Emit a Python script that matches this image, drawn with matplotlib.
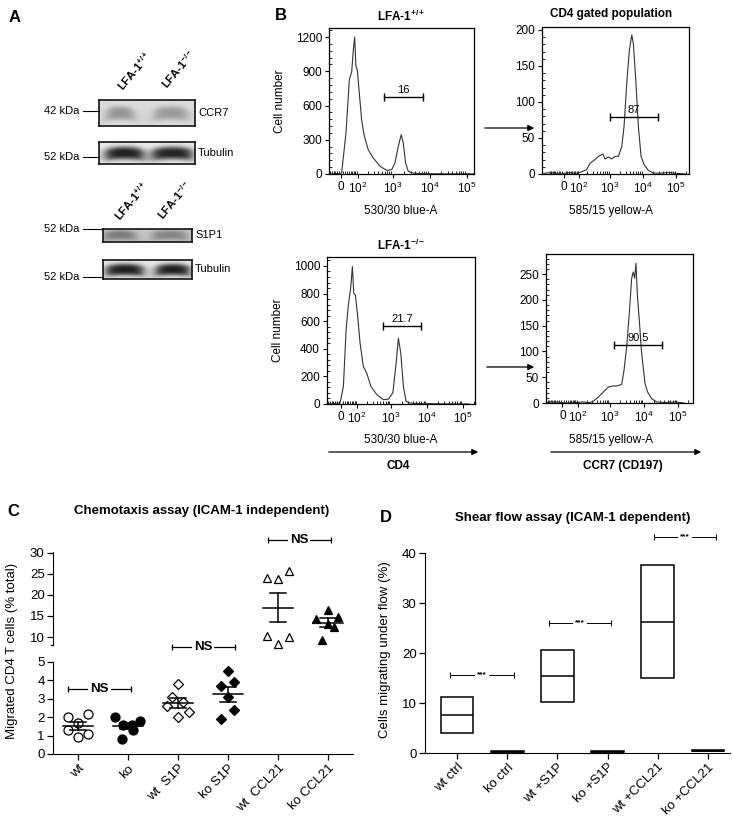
import matplotlib
matplotlib.use('Agg')
import matplotlib.pyplot as plt
import numpy as np
from matplotlib.patches import FancyArrowPatch
from matplotlib.lines import Line2D
from matplotlib.ticker import FixedLocator, AutoMinorLocator

plt.rcParams['font.family'] = ['Liberation Sans', 'DejaVu Sans']
plt.rcParams['mathtext.fontset'] = 'custom'
plt.rcParams['mathtext.rm'] = 'Liberation Sans'
plt.rcParams['mathtext.bf'] = 'Liberation Sans:bold'
plt.rcParams['mathtext.it'] = 'Liberation Sans:italic'

W, H = 734, 826

# ---------------- data ----------------
# A: western blots (band darkness 0..1)
blot_names = ['CCR7', 'Tubulin', 'S1P1', 'Tubulin']
blot_kda = ['42 kDa', '52 kDa', '52 kDa', '52 kDa']
blot_bg = [0.14, 0.09, 0.22, 0.09]
band_level = [[0.42, 0.40], [0.88, 0.86], [0.52, 0.48], [0.88, 0.88]]
lane_labels = [r'LFA-1$^{\mathbf{+/+}}$', r'LFA-1$^{\mathbf{-/-}}$']

# B: flow histograms (intensity, cell count)
cd4_wt_x = [-60, -30, -10, 2, 24, 42, 56, 66, 75, 84, 94, 110, 131, 155, 207, 289, 446, 676, 922,
            1132, 1390, 1675, 1897, 2200, 2590, 3540, 5000, 10000, 30000, 100000, 150000]
cd4_wt_y = [0, 3, 1, 9, 360, 826, 900, 1090, 1200, 943, 914, 710, 476, 345, 213, 140, 67, 32, 38,
            96, 242, 345, 272, 96, 23, 8, 3, 2, 1, 2, 0]
ccr7_wt_x = [-150, -80, -20, 30, 70, 110, 188, 242, 347, 442, 601, 705, 887, 1127, 1419, 1786, 2265,
             2655, 3206, 3846, 4550, 5080, 6010, 7210, 8690, 10720, 14490, 20500, 30000, 60000,
             100000, 200000]
ccr7_wt_y = [1, 2, 0, 2, 1, 2.3, 6, 15, 20, 24.5, 27.7, 20.8, 23.6, 20.8, 24.5, 24.5, 38, 66, 126,
             172, 193, 181, 131, 66, 24.5, 13, 5, 1.4, 1, 2, 1, 0]
cd4_ko_x = [-70, -40, -3.5, 13.5, 27.8, 40.6, 55, 65, 74.5, 86, 102, 126, 160, 203, 268, 401, 611,
            841, 1114, 1352, 1596, 1858, 2198, 2612, 3373, 6000, 15000, 50000, 150000]
cd4_ko_y = [0, 3, 7, 128, 537, 718, 850, 995, 802, 790, 658, 441, 272, 224, 128, 67, 31, 36, 80,
            272, 477, 369, 128, 19, 7, 3, 2, 1, 0]
ccr7_ko_x = [-100, -40, 20, 80, 150, 250, 318, 453, 635, 891, 1199, 1574, 2208, 2582, 3097, 3698,
             4346, 4842, 5321, 5821, 6353, 7278, 8550, 10700, 12850, 16830, 23660, 40000, 80000,
             150000]
ccr7_ko_y = [1, 2, 0, 1, 2, 1, 3.2, 11.7, 21.4, 31, 33, 33, 36, 63, 109, 174, 242, 254, 242, 271,
             212, 161, 96, 38, 21, 8.4, 2, 1, 2, 0]
gate_lo = [572, 1000, 600, 1312]
gate_hi = [6450, 28500, 6810, 33800]
gate_y = [674, 79, 565, 112]
gate_pct = ['16', '87', '21.7', '90.5']
flow_ticks = [0, 1e2, 1e3, 1e4, 1e5]
flow_ticklabels = ['0', r'$10^2$', r'$10^3$', r'$10^4$', r'$10^5$']

# C: chemotaxis (% total)
cats_c = ['wt', 'ko', 'wt  S1P', 'ko S1P', 'wt  CCL21', 'ko CCL21']
chemo_wt = [2.0, 1.7, 2.2, 1.3, 0.9, 1.1]
chemo_ko = [2.0, 1.6, 1.55, 1.8, 1.3, 0.8]
chemo_wt_s1p = [3.8, 3.1, 2.8, 2.6, 2.3, 2.0]
chemo_ko_s1p = [4.5, 3.9, 3.7, 3.1, 2.4, 1.9]
chemo_wt_ccl21 = [24.0, 23.8, 25.8, 10.2, 8.3, 9.9]
chemo_ko_ccl21 = [16.5, 14.3, 14.8, 13.2, 12.3, 9.4]

# D: shear flow (% migrating), range and mean
cats_d = ['wt ctrl', 'ko ctrl', 'wt +S1P', 'ko +S1P', 'wt +CCL21', 'ko +CCL21']
shear_low = [4.1, 0.2, 10.3, 0.2, 15.1, 0.35]
shear_mean = [7.7, 0.3, 15.5, 0.3, 26.3, 0.5]
shear_high = [11.3, 0.45, 20.7, 0.4, 37.7, 0.6]

# ---------------- figure ----------------
fig = plt.figure(figsize=(W / 100, H / 100), dpi=100)


def add_ax(l, t, r, b):
    return fig.add_axes([l / W, 1 - b / H, (r - l) / W, (b - t) / H])


def ftext(x, y, s, **kw):
    fig.text(x / W, 1 - y / H, s, **kw)


def fline(x1, x2, y, lw=0.8):
    fig.add_artist(Line2D([x1 / W, x2 / W], [1 - y / H, 1 - y / H],
                          transform=fig.transFigure, color='k', lw=lw))


def farrow(x1, x2, y):
    fig.add_artist(FancyArrowPatch((x1 / W, 1 - y / H), (x2 / W, 1 - y / H),
                                   transform=fig.transFigure, arrowstyle='-|>',
                                   mutation_scale=9, lw=0.9, color='k'))


# panel letters
ftext(15, 17, 'A', fontsize=12, fontweight='bold', ha='center', va='center')
ftext(281, 15, 'B', fontsize=12, fontweight='bold', ha='center', va='center')
ftext(13, 511, 'C', fontsize=12, fontweight='bold', ha='center', va='center')
ftext(386, 518, 'D', fontsize=12, fontweight='bold', ha='center', va='center')

# ---------------- A ----------------
blot_boxes = [(99, 100, 195, 126), (99, 142, 195, 164), (103, 229, 192, 242), (103, 260, 192, 279)]
band_spans = [[(0.08, 0.36), (0.58, 0.92)], [(0.07, 0.46), (0.56, 0.97)],
              [(0.02, 0.36), (0.56, 0.94)], [(0.04, 0.45), (0.6, 0.97)]]
band_sig = [0.27, 0.3, 0.36, 0.32]
kda_y = [111, 157, 229, 277]
xx, yy = np.meshgrid(np.linspace(0, 1, 240), np.linspace(0, 1, 60))
for i, (l, t, r, b) in enumerate(blot_boxes):
    ax = add_ax(l, t, r, b)
    img = np.full_like(xx, blot_bg[i])
    for (a, e), lev in zip(band_spans[i], band_level[i]):
        cx, hw = (a + e) / 2, (e - a) / 2
        prof_x = 1 / (1 + np.exp((np.abs(xx - cx) - hw) / 0.035))
        yc = 0.5 + 0.08 * ((xx - cx) / hw) ** 2
        prof_y = np.exp(-(np.abs(yy - yc) / band_sig[i]) ** 3)
        img = img + (lev - blot_bg[i]) * prof_x * prof_y
    ax.imshow(img, cmap='gray_r', vmin=0, vmax=1, extent=[0, 1, 0, 1], aspect='auto',
              interpolation='bilinear')
    ax.set_xticks([])
    ax.set_yticks([])
    for s in ax.spines.values():
        s.set_linewidth(1.1)
    ftext(r + 3, (t + b) / 2, blot_names[i], fontsize=8, ha='left', va='center')
    ftext(79, kda_y[i], blot_kda[i], fontsize=8, ha='right', va='center')
    fline(83, l, kda_y[i])

lane_anchor = [[(123, 92), (167, 90)], [(120, 222), (163, 221)]]
for grp in lane_anchor:
    for (x0, y0), lab in zip(grp, lane_labels):
        ftext(x0, y0, lab, fontsize=8, fontweight='bold', rotation=50,
              rotation_mode='anchor', ha='left', va='baseline')

# ---------------- B ----------------
C_LOG = 40.0


def fwd(x):
    return np.arcsinh(np.asarray(x, dtype=float) / (2 * C_LOG)) / np.log(10) + np.log10(C_LOG)


def inv(y):
    return 2 * C_LOG * np.sinh((np.asarray(y, dtype=float) - np.log10(C_LOG)) * np.log(10))


flow_axes = [(329, 28, 474, 174), (542, 27, 689, 174), (327, 257, 475, 404), (546, 254, 693, 403)]
flow_xlim = [(-67, 1.55e5), (-175, 2.46e5), (-80, 2.15e5), (-109, 2.77e5)]
flow_ylim = [1280, 204, 1065, 289]
flow_yticks = [np.arange(0, 1201, 300), np.arange(0, 201, 50), np.arange(0, 1001, 200),
               np.arange(0, 251, 50)]
flow_data = [(cd4_wt_x, cd4_wt_y), (ccr7_wt_x, ccr7_wt_y), (cd4_ko_x, cd4_ko_y),
             (ccr7_ko_x, ccr7_ko_y)]
minor_x = [-k * 10 for k in range(1, 10)] + [k * 10 ** d for d in (1, 2, 3, 4, 5) for k in range(1, 10)]

for i, (l, t, r, b) in enumerate(flow_axes):
    ax = add_ax(l, t, r, b)
    ax.set_xscale('function', functions=(fwd, inv))
    ax.set_xlim(*flow_xlim[i])
    ax.set_ylim(0, flow_ylim[i])
    hx, hy = flow_data[i]
    ax.plot(hx, hy, color='#333333', lw=0.8)
    ax.set_xticks(flow_ticks)
    ax.set_xticklabels(flow_ticklabels)
    ax.xaxis.set_minor_locator(FixedLocator([v for v in minor_x
                                             if flow_xlim[i][0] < v < flow_xlim[i][1]]))
    ax.set_yticks(flow_yticks[i])
    ax.yaxis.set_minor_locator(AutoMinorLocator(5))
    ax.tick_params(which='major', length=3, width=0.8, labelsize=8.5, pad=2)
    ax.tick_params(which='minor', direction='in', length=2, width=0.6)
    for s in ax.spines.values():
        s.set_linewidth(0.9)
    # gate
    g1, g2, gy = gate_lo[i], gate_hi[i], gate_y[i]
    ax.plot([g1, g2], [gy, gy], color='k', lw=1, marker='|', markersize=6, mew=1)
    ax.text(inv((fwd(g1) + fwd(g2)) / 2), gy + flow_ylim[i] * 0.015, gate_pct[i],
            fontsize=8, ha='center', va='bottom')

ftext(401, 16, r'LFA-1$^{\mathbf{+/+}}$', fontsize=8.5, fontweight='bold', ha='center', va='center')
ftext(611, 14, 'CD4 gated population', fontsize=8.5, fontweight='bold', ha='center', va='center')
ftext(401, 245, r'LFA-1$^{\mathbf{-/-}}$', fontsize=8.5, fontweight='bold', ha='center', va='center')
ftext(280, 101, 'Cell number', fontsize=8.5, rotation=90, ha='center', va='center')
ftext(278, 330, 'Cell number', fontsize=8.5, rotation=90, ha='center', va='center')
ftext(401, 211, '530/30 blue-A', fontsize=8.5, ha='center', va='center')
ftext(611, 211, '585/15 yellow-A', fontsize=8.5, ha='center', va='center')
ftext(401, 440, '530/30 blue-A', fontsize=8.5, ha='center', va='center')
ftext(611, 440, '585/15 yellow-A', fontsize=8.5, ha='center', va='center')
farrow(482, 537, 128)
farrow(484, 537, 367)
farrow(326, 481, 452)
farrow(548, 704, 452)
ftext(398, 466, 'CD4', fontsize=8.5, fontweight='bold', ha='center', va='center')
ftext(623, 466, 'CCR7 (CD197)', fontsize=8.5, fontweight='bold', ha='center', va='center')

# ---------------- C ----------------
chemo = [chemo_wt, chemo_ko, chemo_wt_s1p, chemo_ko_s1p, chemo_wt_ccl21, chemo_ko_ccl21]
jitter = [[-0.2, 0, 0.2, -0.2, 0, 0.2], [-0.27, -0.1, 0.07, 0.23, 0.1, -0.13],
          [0, -0.13, 0.1, -0.23, 0.22, 0], [-0.01, 0.12, -0.14, -0.01, 0.12, -0.14],
          [-0.22, 0, 0.22, -0.22, 0, 0.22], [0.0, -0.25, 0.2, 0.0, 0.12, -0.13]]
mk = ['o', 'o', 'D', 'D', '^', '^']
msz = [6.5, 6.5, 5, 5, 5.5, 5.5]
filled = [False, True, False, True, False, True]

ax_hi = add_ax(53, 552, 353, 645)
ax_lo = add_ax(53, 662, 353, 754)
for ax in (ax_hi, ax_lo):
    ax.set_xlim(-0.5, 5.5)
    ax.spines['top'].set_visible(False)
    ax.spines['right'].set_visible(False)
    ax.tick_params(length=4, width=0.9, labelsize=9.5, pad=2)
ax_hi.set_ylim(8.1, 30.2)
ax_hi.set_yticks([10, 15, 20, 25, 30])
ax_hi.spines['bottom'].set_visible(False)
ax_hi.set_xticks([])
ax_hi.plot([-0.55, -0.5], [8.1, 8.1], color='k', lw=0.9, clip_on=False)
ax_lo.set_ylim(0, 5)
ax_lo.set_yticks([0, 1, 2, 3, 4, 5])
ax_lo.set_xticks(range(6))
ax_lo.set_xticklabels(cats_c, rotation=45, ha='right', rotation_mode='anchor')

for i, vals in enumerate(chemo):
    ax = ax_lo if i < 4 else ax_hi
    xs = [i + j for j in jitter[i]]
    ax.plot(xs, vals, linestyle='none', marker=mk[i], markersize=msz[i],
            markerfacecolor='k' if filled[i] else 'white', markeredgecolor='k',
            markeredgewidth=0.9, clip_on=False)
    m = np.mean(vals)
    sem = np.std(vals, ddof=1) / np.sqrt(len(vals))
    ax.plot([i - 0.3, i + 0.3], [m, m], color='k', lw=1.1, clip_on=False)
    ax.plot([i, i], [m - sem, m + sem], color='k', lw=1.1, clip_on=False)
    ax.plot([i - 0.16, i + 0.16], [m - sem, m - sem], color='k', lw=1.1, clip_on=False)
    ax.plot([i - 0.16, i + 0.16], [m + sem, m + sem], color='k', lw=1.1, clip_on=False)


def bracket(ax, x1, x2, y, label, fs, lw=0.9, ms=5):
    ax.plot([x1, x2], [y, y], color='k', lw=lw, marker='|', markersize=ms, mew=lw,
            clip_on=False)
    ax.text((x1 + x2) / 2, y, label, fontsize=fs, fontweight='bold', ha='center',
            va='center', bbox=dict(fc='white', ec='none', pad=1.5), clip_on=False)


bracket(ax_lo, -0.2, 1.05, 3.55, 'NS', 9.5)
bracket(ax_lo, 1.87, 3.13, 5.8, 'NS', 9.5)
bracket(ax_hi, 3.79, 5.05, 33.0, 'NS', 9.5)
ftext(202, 511, 'Chemotaxis assay (ICAM-1 independent)', fontsize=9.5, fontweight='bold',
      ha='center', va='center')
ftext(12, 651, 'Migrated CD4 T cells (% total)', fontsize=9.5, rotation=90, ha='center',
      va='center')

# ---------------- D ----------------
ax_d = add_ax(425, 553, 730, 753)
xd = np.arange(len(cats_d))
ax_d.bar(xd, np.subtract(shear_high, shear_low), bottom=shear_low, width=0.65,
         facecolor='none', edgecolor='k', linewidth=1.1)
ax_d.hlines(shear_mean, xd - 0.325, xd + 0.325, color='k', lw=1.1)
ax_d.set_xlim(-0.64, 5.44)
ax_d.set_ylim(0, 40)
ax_d.set_yticks([0, 10, 20, 30, 40])
ax_d.set_xticks(xd)
ax_d.set_xticklabels(cats_d, rotation=45, ha='right', rotation_mode='anchor')
ax_d.spines['top'].set_visible(False)
ax_d.spines['right'].set_visible(False)
ax_d.tick_params(length=4, width=0.9, labelsize=9.5, pad=2)
bracket(ax_d, -0.14, 1.13, 15.67, '***', 6, lw=0.7, ms=4)
bracket(ax_d, 1.84, 3.07, 26.0, '***', 6, lw=0.7, ms=4)
bracket(ax_d, 3.93, 5.16, 43.3, '***', 6, lw=0.7, ms=4)
ftext(573, 518, 'Shear flow assay (ICAM-1 dependent)', fontsize=9.5, fontweight='bold',
      ha='center', va='center')
ftext(385, 650, 'Cells migrating under flow (%)', fontsize=9.5, rotation=90, ha='center',
      va='center')

fig.savefig('out.png', dpi=100)
